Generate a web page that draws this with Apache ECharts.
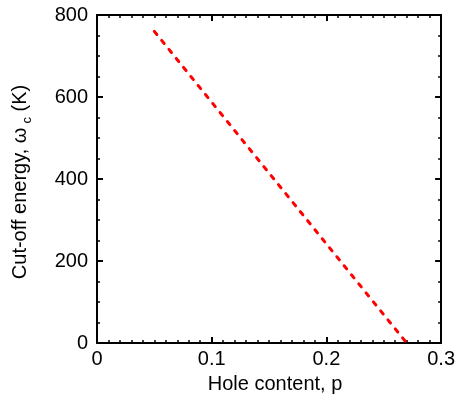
<!DOCTYPE html>
<html>
<head>
<meta charset="utf-8">
<script src="https://cdn.jsdelivr.net/npm/echarts@6/dist/echarts.min.js"></script>
<style>
  html, body { margin: 0; padding: 0; background: #fff; }
  #container { width: 458px; height: 405px; }
</style>
</head>
<body>
<div id="container"></div>
<script>
// data
var holeContent = [0.05, 0.27];
var cutoffEnergy = [760, 0];
var xTicks = [0, 0.1, 0.2, 0.3];
var yTicks = [0, 200, 400, 600, 800];

var font = 'Liberation Sans, Arial, sans-serif';
var fs = 20;
var lineData = holeContent.map(function (p, i) { return [p, cutoffEnergy[i]]; });

function makeAxis(pos, min, max, step, minorSplit, showLabel, extra) {
    var ax = {
        type: 'value',
        position: pos,
        min: min,
        max: max,
        interval: step,
        axisLine: { show: true, onZero: false, lineStyle: { color: '#000', width: 2 } },
        axisTick: { show: true, inside: true, length: 6, lineStyle: { color: '#000', width: 2 } },
        minorTick: { show: true, splitNumber: minorSplit, length: 3, lineStyle: { color: '#000', width: 1.5 } },
        splitLine: { show: false },
        minorSplitLine: { show: false },
        axisLabel: { show: showLabel, color: '#000', fontFamily: font, fontSize: fs, margin: 9 }
    };
    for (var k in extra) ax[k] = extra[k];
    return ax;
}

var myChart = echarts.init(document.getElementById('container'));
myChart.setOption({
    animation: false,
    backgroundColor: '#fff',
    grid: { left: 97, right: 13, top: 15, bottom: 62 },
    xAxis: [
        makeAxis('bottom', xTicks[0], xTicks[xTicks.length - 1], 0.1, 10, true, {
            name: 'Hole content, p',
            nameLocation: 'middle',
            nameGap: 31,
            nameTextStyle: { color: '#000', fontFamily: font, fontSize: fs, padding: [0, 0, 0, 12] },
            axisLabel: {
                color: '#000', fontFamily: font, fontSize: fs, margin: 6,
                formatter: function (v) { return xTicks.indexOf(+v.toFixed(1)) >= 0 ? String(+v.toFixed(1)) : ''; }
            }
        }),
        makeAxis('top', xTicks[0], xTicks[xTicks.length - 1], 0.1, 10, false, {})
    ],
    yAxis: [
        makeAxis('left', yTicks[0], yTicks[yTicks.length - 1], 200, 4, true, {
            name: '{n|Cut-off energy, ω}{s|c}{n| (K)}',
            nameLocation: 'middle',
            nameGap: 63,
            nameTextStyle: {
                color: '#000', fontFamily: font, fontSize: fs,
                padding: [0, 6, 0, 0],
                rich: {
                    n: { color: '#000', fontFamily: font, fontSize: fs },
                    s: { color: '#000', fontFamily: font, fontSize: 13, verticalAlign: 'bottom', padding: [14, 0, 0, 4] }
                }
            }
        }),
        makeAxis('right', yTicks[0], yTicks[yTicks.length - 1], 200, 4, false, {})
    ],
    series: [{
        type: 'line',
        data: lineData,
        xAxisIndex: 0,
        yAxisIndex: 0,
        symbol: 'none',
        lineStyle: { color: '#ff0000', width: 3, type: [4, 7.6], cap: 'round' }
    }]
});
</script>
</body>
</html>
